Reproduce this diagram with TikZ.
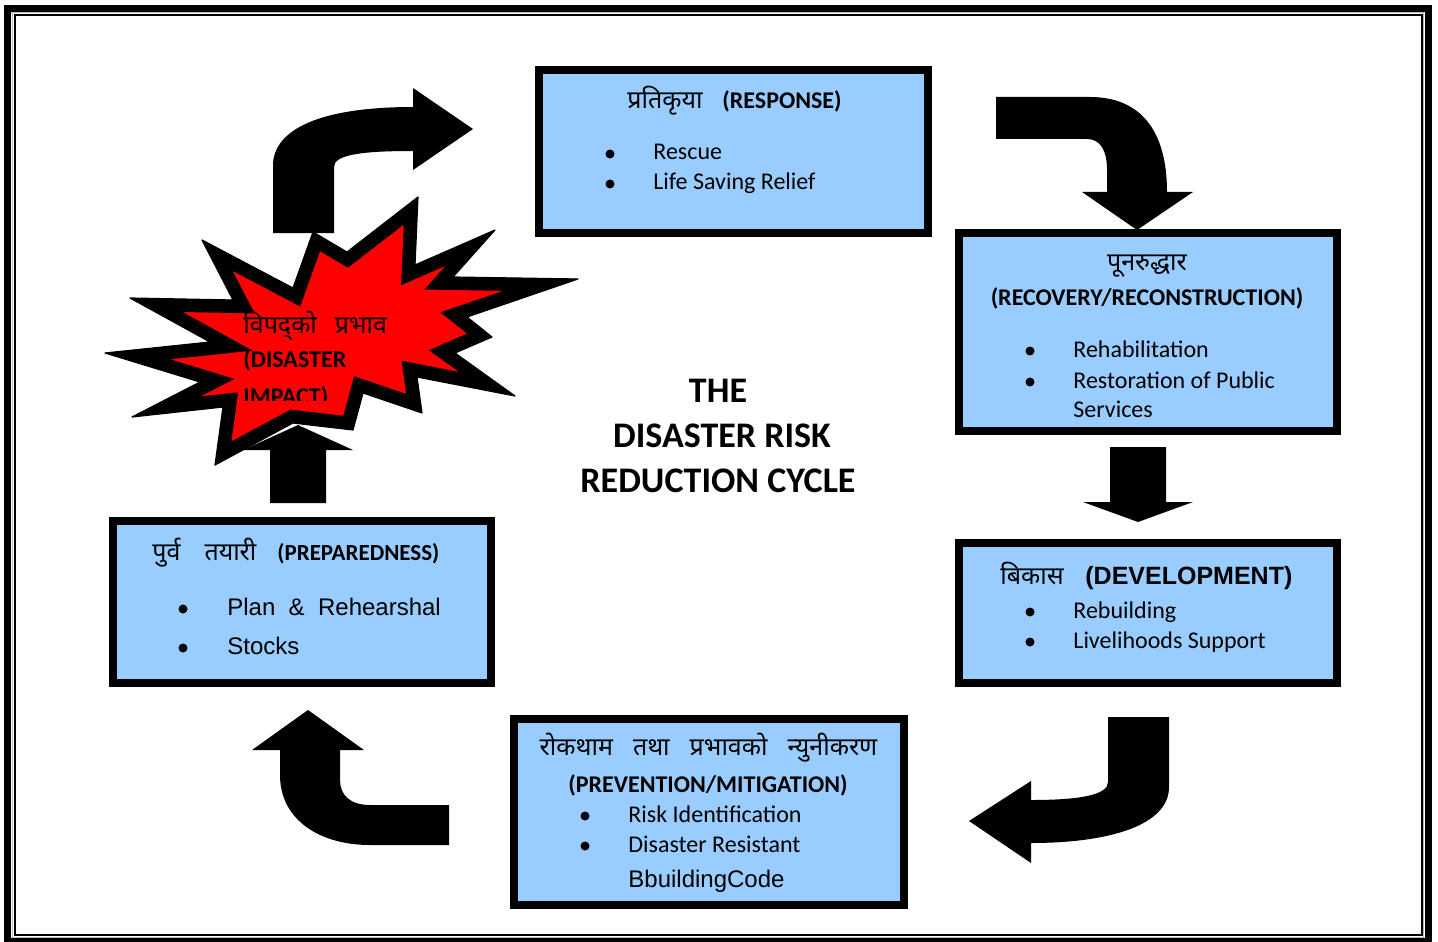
\documentclass[tikz,border=0pt]{standalone}
\usepackage{fontspec}
\setmainfont{Carlito}
\newfontfamily\deva[Script=Devanagari]{Noto Sans}
\newfontfamily\arialfont{Liberation Sans}
\usetikzlibrary{fit}

\definecolor{boxblue}{RGB}{153,204,255}
\definecolor{framegray}{RGB}{185,185,185}

% outline of the disaster burst
\newcommand{\burstoutline}{(418,197) -- (415,265) -- (495,230) -- (453,277) -- (578,279) -- (467,317)
  -- (492,337) -- (455,353) -- (515,396) -- (417,377) -- (422,413) -- (363,393)
  -- (353,430) -- (293,423) -- (215,465) -- (223,407) -- (132,417) -- (200,382)
  -- (105,353) -- (210,342) -- (130,298) -- (233,300) -- (202,240) -- (293,288)
  -- (313,232) -- (347,252) -- cycle}

\tikzset{
  stage/.style={draw=black, line width=4pt, fill=boxblue, inner sep=0pt},
  bentarrow/.style={fill=black},
  burstrim/.style={draw=black, line width=13pt, line join=miter, miter limit=30},
  head/.style={anchor=base, inner sep=0pt, font=\fontsize{12}{14}\selectfont\bfseries},
  devtxt/.style={anchor=base, inner sep=0pt, font=\fontsize{12.5}{14}\selectfont\deva},
  item/.style={anchor=base west, inner sep=0pt, font=\fontsize{12}{14}\selectfont},
  aitem/.style={anchor=base west, inner sep=0pt, font=\fontsize{12}{14}\selectfont\arialfont},
  dot/.style={circle, fill=black, inner sep=0pt, minimum size=4.5pt},
  cycletitle/.style={anchor=base, inner sep=0pt, font=\fontsize{18}{21}\selectfont\bfseries},
}

\begin{document}
\begin{tikzpicture}[x=0.5pt, y=-0.5pt]
\clip (0,0) rectangle (1438,941);
\fill[white] (0,0) rectangle (1438,941);

% page frame
\draw[line width=3.5pt] (7.5,8.5) rectangle (1428.5,941.5);
\draw[framegray, line width=0.5pt] (12.5,13) rectangle (1423.8,937);
\draw[line width=1pt] (15,15.5) rectangle (1421.7,935);

% bent arrows round the cycle
\fill[bentarrow] (273,233) -- (273,163) .. controls (276,125) and (330,107) .. (413,107)
  -- (413,88) -- (473,129) -- (413,170) -- (413,151)
  .. controls (360,151) and (334,155) .. (334,167) -- (334,233) -- cycle;
\fill[bentarrow] (996,97) -- (1090,97) .. controls (1140,97) and (1167,130) .. (1167,192)
  -- (1193,192) -- (1137,230) -- (1082,192) -- (1107,192) -- (1107,170)
  .. controls (1107,150) and (1100,139) .. (1087,139) -- (996,139) -- cycle;
\fill[bentarrow] (1110,447) -- (1166,447) -- (1166,502) -- (1193,502) -- (1138,522)
  -- (1083,502) -- (1110,502) -- cycle;
\fill[bentarrow] (1108,717) -- (1169,717) -- (1169,787) .. controls (1169,825) and (1110,843) .. (1031,843)
  -- (1031,863) -- (969,821) -- (1031,781) -- (1031,800)
  .. controls (1080,800) and (1108,795) .. (1108,782) -- cycle;
\fill[bentarrow] (449,805) -- (370,805) .. controls (350,805) and (340,795) .. (340,780)
  -- (340,750) -- (364,750) -- (308,710) -- (252,750) -- (280,750) -- (280,775)
  .. controls (280,820) and (320,845) .. (370,845) -- (449,845) -- cycle;
\fill[bentarrow] (270,503) -- (270,450) -- (243,450) -- (298,425) -- (353,450)
  -- (326,450) -- (326,503) -- cycle;

% disaster impact burst
\fill[red] \burstoutline;
\begin{scope}
  \clip \burstoutline;
  \draw[burstrim] \burstoutline;
\end{scope}
\draw[line width=0.6pt, line join=round] \burstoutline;
\node[devtxt, anchor=base west] (impactdev) at (243,333) {विपद्को\hspace{9pt}प्रभाव};
\node[head, anchor=base west] (impacten) at (243,367) {(DISASTER};
\begin{scope}
  \clip (230,370) rectangle (400,400);
  \node[head, anchor=base west] (impacten2) at (243,404) {IMPACT)};
\end{scope}

% stage boxes
\node[stage, fit={(538.5,70.5) (928,232.5)}] (response) {};
\node[stage, fit={(958.5,232.5) (1337,430.5)}] (recovery) {};
\node[stage, fit={(958.5,542.5) (1337,682.5)}] (development) {};
\node[stage, fit={(513.5,718.5) (904,904.5)}] (prevention) {};
\node[stage, fit={(113,520.5) (491,682.5)}] (preparedness) {};

% response
\node[devtxt, anchor=base west] (responsedev) at (627,109) {प्रतिकृया};
\node[head, anchor=base west] (responsehead) at (722,109) {(RESPONSE)};
\foreach \txt/\y [count=\n] in {Rescue/160, Life Saving Relief/190} {
  \node[dot] (rdot\n) at (610,\y-6) {};
  \node[item] (ritem\n) at (653,\y) {\txt};
}

% recovery
\node[devtxt] (recoverydev) at (1147,270) {पूनरुद्धार};
\node[head] (recoveryhead) at (1147,305) {(RECOVERY/RECONSTRUCTION)};
\foreach \txt/\y [count=\n] in {Rehabilitation/357, Restoration of Public/388} {
  \node[dot] (cdot\n) at (1030,\y-6) {};
  \node[item] (citem\n) at (1073,\y) {\txt};
}
\node[item] (citem3) at (1073,417) {Services};

% development
\node[devtxt, anchor=base west] (developmentdev) at (1000,584) {बिकास};
\node[head, anchor=base west, font=\fontsize{12.5}{15}\selectfont\arialfont\bfseries] (developmenthead) at (1085,584) {(DEVELOPMENT)};
\foreach \txt/\y [count=\n] in {Rebuilding/618, Livelihoods Support/648} {
  \node[dot] (ddot\n) at (1030,\y-6) {};
  \node[item] (ditem\n) at (1073,\y) {\txt};
}

% prevention
\node[devtxt] (preventiondev) at (708.5,755) {रोकथाम\hspace{10pt}तथा\hspace{10pt}प्रभावको\hspace{10pt}न्युनीकरण};
\node[head] (preventionhead) at (708,792) {(PREVENTION/MITIGATION)};
\foreach \txt/\y [count=\n] in {Risk Identification/822, Disaster Resistant/852} {
  \node[dot] (pdot\n) at (585,\y-6) {};
  \node[item] (pitem\n) at (628,\y) {\txt};
}
\node[aitem] (pitem3) at (628,887) {BbuildingCode};

% preparedness
\node[devtxt, anchor=base west] (preparednessdev) at (152,560) {पुर्व\hspace{12pt}तयारी};
\node[head, anchor=base west, font=\fontsize{11.5}{14}\selectfont\bfseries] (preparednesshead) at (277,560) {(PREPAREDNESS)};
\foreach \txt/\y [count=\n] in {Plan\ \ \&\ \ Rehearshal/615, Stocks/654} {
  \node[dot] (edot\n) at (183,\y-6) {};
  \node[aitem] (eitem\n) at (227,\y) {\txt};
}

% cycle title
\node[cycletitle] (title1) at (718,402) {THE};
\node[cycletitle] (title2) at (722,447) {DISASTER RISK};
\node[cycletitle] (title3) at (718,492) {REDUCTION CYCLE};
\end{tikzpicture}
\end{document}
